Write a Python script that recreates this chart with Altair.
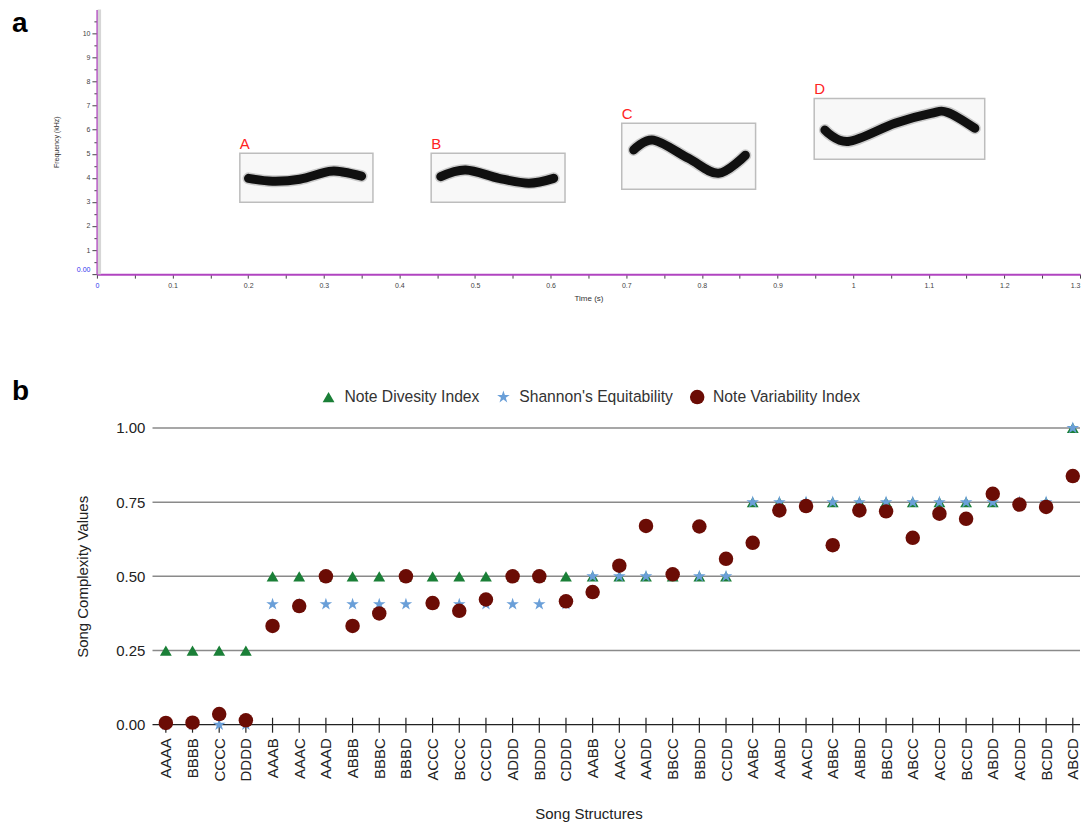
import altair as alt
import pandas as pd

# ---------------- Panel a data (spectrogram sketches) ----------------
note_names = ["A", "B", "C", "D"]
box_t0 = [0.189, 0.442, 0.694, 0.9485]
box_t1 = [0.365, 0.619, 0.871, 1.174]
box_f0 = [2.99, 2.99, 3.53, 4.77]
box_f1 = [5.02, 5.02, 6.27, 7.30]

trace_A_t = [0.2005, 0.232, 0.268, 0.307, 0.327, 0.350]
trace_A_f = [3.98, 3.86, 3.94, 4.27, 4.23, 4.07]
trace_B_t = [0.4547, 0.4877, 0.5317, 0.5712, 0.604]
trace_B_f = [4.05, 4.33, 3.98, 3.78, 3.98]
trace_C_t = [0.7098, 0.7361, 0.7823, 0.8219, 0.8575]
trace_C_f = [5.16, 5.57, 4.81, 4.19, 4.94]
trace_D_t = [0.9626, 0.9934, 1.0554, 1.1029, 1.125, 1.161]
trace_D_f = [5.99, 5.51, 6.27, 6.68, 6.72, 6.06]

time_ticks = [0, 0.05, 0.1, 0.15, 0.2, 0.25, 0.3, 0.35, 0.4, 0.45, 0.5, 0.55, 0.6, 0.65,
              0.7, 0.75, 0.8, 0.85, 0.9, 0.95, 1.0, 1.05, 1.1, 1.15, 1.2, 1.25, 1.3]
freq_ticks = [0, 0.5, 1, 1.5, 2, 2.5, 3, 3.5, 4, 4.5, 5, 5.5, 6, 6.5, 7, 7.5, 8, 8.5,
              9, 9.5, 10, 10.5]

# ---------------- Panel b data ----------------
structures = ["AAAA", "BBBB", "CCCC", "DDDD", "AAAB", "AAAC", "AAAD", "ABBB", "BBBC",
              "BBBD", "ACCC", "BCCC", "CCCD", "ADDD", "BDDD", "CDDD", "AABB", "AACC",
              "AADD", "BBCC", "BBDD", "CCDD", "AABC", "AABD", "AACD", "ABBC", "ABBD",
              "BBCD", "ABCC", "ACCD", "BCCD", "ABDD", "ACDD", "BCDD", "ABCD"]
note_diversity = [0.25, 0.25, 0.25, 0.25, 0.5, 0.5, 0.5, 0.5, 0.5, 0.5, 0.5, 0.5, 0.5,
                  0.5, 0.5, 0.5, 0.5, 0.5, 0.5, 0.5, 0.5, 0.5, 0.75, 0.75, 0.75, 0.75,
                  0.75, 0.75, 0.75, 0.75, 0.75, 0.75, 0.75, 0.75, 1.0]
shannon_equit = [0.0, 0.0, 0.0, 0.0, 0.406, 0.406, 0.406, 0.406, 0.406, 0.406, 0.406,
                 0.406, 0.406, 0.406, 0.406, 0.406, 0.5, 0.5, 0.5, 0.5, 0.5, 0.5, 0.75,
                 0.75, 0.75, 0.75, 0.75, 0.75, 0.75, 0.75, 0.75, 0.75, 0.75, 0.75, 1.0]
note_variability = [0.006, 0.007, 0.036, 0.015, 0.333, 0.40, 0.50, 0.333, 0.375, 0.50,
                    0.41, 0.384, 0.422, 0.50, 0.50, 0.416, 0.447, 0.536, 0.670, 0.507,
                    0.668, 0.559, 0.613, 0.722, 0.737, 0.605, 0.722, 0.719, 0.630, 0.711,
                    0.694, 0.778, 0.742, 0.734, 0.838]
series_names = ["Note Divesity Index", "Shannon's Equitability", "Note Variability Index"]
series_colors = ["#1a7f37", "#6a9fd8", "#6b0c05"]
STAR = ("M0,-1L0.2245,-0.309L0.951,-0.309L0.363,0.118L0.588,0.809L0,0.382"
        "L-0.588,0.809L-0.363,0.118L-0.951,-0.309L-0.2245,-0.309Z")
series_shapes = ["triangle-up", STAR, "circle"]
series_sizes = [140, 210, 135]
grid_values = [0.25, 0.5, 0.75, 1.0]

FONT = "Liberation Sans"

# ======================= Panel a =======================
boxes = pd.DataFrame({"note": note_names, "t0": box_t0, "t1": box_t1,
                      "f0": box_f0, "f1": box_f1})
trace_rows = []
for name, ts, fs in [("A", trace_A_t, trace_A_f), ("B", trace_B_t, trace_B_f),
                     ("C", trace_C_t, trace_C_f), ("D", trace_D_t, trace_D_f)]:
    for k, (t, f) in enumerate(zip(ts, fs)):
        trace_rows.append({"note": name, "k": k, "t": t, "f": f})
traces = pd.DataFrame(trace_rows)

xa_scale = alt.Scale(domain=[0, 1.3], nice=False, zero=False)
ya_scale = alt.Scale(domain=[0, 11], nice=False)

xa_axis = alt.Axis(
    values=time_ticks,
    labelExpr="datum.value == 0 ? '0' : (round(datum.value*20) % 2 == 0 ? format(datum.value, '.1~f') : '')",
    labelFont=FONT, labelFontSize=7, labelOverlap=False,
    labelColor={"condition": {"test": "datum.value == 0", "value": "#3333ee"}, "value": "#444444"},
    labelAlign={"condition": {"test": "datum.value > 1.29", "value": "right"}, "value": "center"},
    tickColor="#444444", tickSize=4, labelPadding=3,
    domainColor="#b044c0", domainWidth=2, grid=False,
    title="Time (s)", titleFont=FONT, titleFontSize=8, titleFontWeight="normal",
    titleColor="#333333", titlePadding=6,
)
ya_axis = alt.Axis(
    values=freq_ticks,
    labelExpr="datum.value == 0 ? '0.00' : (datum.value % 1 == 0 ? format(datum.value, '.0f') : '')",
    labelFont=FONT, labelFontSize=7, labelOverlap=False,
    labelColor={"condition": {"test": "datum.value == 0", "value": "#3333ee"}, "value": "#444444"},
    labelOffset={"condition": {"test": "datum.value == 0", "value": -5}, "value": 0},
    tickColor="#444444",
    tickSize={"condition": {"test": "datum.value % 1 == 0", "value": 5}, "value": 3},
    labelPadding=2, domainColor="#b044c0", domainWidth=2, grid=False,
    title="Frequency (kHz)", titleFont=FONT, titleFontSize=7, titleFontWeight="normal",
    titleColor="#333333", titlePadding=17,
)

XA = dict(scale=xa_scale, axis=xa_axis)
YA = dict(scale=ya_scale, axis=ya_axis)

band = alt.Chart(pd.DataFrame({"a": [0]})).mark_rect(color="#d6d6d6").encode(
    x=alt.datum(0.001, **XA), x2=alt.datum(0.0055),
    y=alt.datum(0, **YA), y2=alt.datum(11),
)

box_layer = alt.Chart(boxes).mark_rect(fill="#f8f8f8", stroke="#bdbdbd", strokeWidth=1.5).encode(
    x=alt.X("t0:Q", **XA), x2="t1:Q",
    y=alt.Y("f0:Q", **YA), y2="f1:Q",
)
box_text = alt.Chart(boxes).mark_text(
    align="left", baseline="bottom", dy=-1, fontSize=15, font=FONT, color="#ff2222"
).encode(x=alt.X("t0:Q", **XA), y=alt.Y("f1:Q", **YA), text="note:N")

trace_halo = alt.Chart(traces).mark_line(
    color="#000000", strokeWidth=12, opacity=0.18, interpolate="cardinal", strokeCap="round"
).encode(x=alt.X("t:Q", **XA), y=alt.Y("f:Q", **YA), detail="note:N", order="k:Q")
trace_core = alt.Chart(traces).mark_line(
    color="#050505", strokeWidth=9, opacity=0.95, interpolate="cardinal", strokeCap="round"
).encode(x=alt.X("t:Q", **XA), y=alt.Y("f:Q", **YA), detail="note:N", order="k:Q")

letter_a = alt.Chart(pd.DataFrame({"s": ["a"]})).mark_text(
    align="left", baseline="alphabetic", fontSize=28, fontWeight="bold", font=FONT, color="#000000"
).encode(x=alt.value(-85), y=alt.value(23), text="s:N")

panel_a = alt.layer(band, box_layer, box_text, trace_halo, trace_core, letter_a).properties(
    width=984, height=265
)

# ======================= Panel b =======================
rows = []
for sname, vals in zip(series_names, [note_diversity, shannon_equit, note_variability]):
    for i, (s, v) in enumerate(zip(structures, vals)):
        rows.append({"series": sname, "idx": i, "structure": s, "value": v})
dfb = pd.DataFrame(rows)

XMIN, XMAX = -2.584, 34.27
xb_scale = alt.Scale(domain=[XMIN, XMAX], nice=False, zero=False)
yb_scale = alt.Scale(domain=[0, 1], nice=False)

label_array = "[" + ",".join("'" + s + "'" for s in structures) + "]"
xb_axis = alt.Axis(
    values=list(range(len(structures))),
    labelExpr=label_array + "[datum.value]",
    labelAngle=270, labelFont=FONT, labelFontSize=15, labelColor="#222222",
    labelPadding=13, labelOverlap=False, ticks=False, domain=False, grid=False,
    title="Song Structures", titleFont=FONT, titleFontSize=15, titleFontWeight="normal",
    titleColor="#222222", titlePadding=26,
)
yb_axis = alt.Axis(
    values=[0, 0.25, 0.5, 0.75, 1.0], format=".2f", offset=-55,
    labelFont=FONT, labelFontSize=15, labelColor="#222222", labelPadding=7,
    ticks=False, domain=False, grid=False,
    title="Song Complexity Values", titleFont=FONT, titleFontSize=15,
    titleFontWeight="normal", titleColor="#222222", titlePadding=25,
)
XB = dict(scale=xb_scale, axis=xb_axis)
YB = dict(scale=yb_scale, axis=yb_axis)

legend = alt.Legend(
    title=None, orient="none", legendX=224, legendY=380, direction="horizontal",
    labelFont=FONT, labelFontSize=15.7, labelColor="#333333", symbolSize=150,
    labelOffset=8, columnPadding=16, symbolStrokeWidth=0,
)

grid_df = pd.DataFrame({"value": grid_values})
grid = alt.Chart(grid_df).mark_rule(color="#8a8a8a", strokeWidth=1.5).encode(
    x=alt.datum(-0.5, **XB), x2=alt.datum(XMAX),
    y=alt.Y("value:Q", **YB),
)
baseline = alt.Chart(pd.DataFrame({"value": [0.0]})).mark_rule(color="#222222", strokeWidth=1.3).encode(
    x=alt.datum(-0.5, **XB), x2=alt.datum(XMAX), y=alt.Y("value:Q", **YB),
)
ticks = alt.Chart(pd.DataFrame({"idx": list(range(len(structures)))})).mark_rule(
    color="#222222", strokeWidth=1.2
).encode(x=alt.X("idx:Q", **XB), y=alt.value(290), y2=alt.value(305))

points = alt.Chart(dfb).mark_point(filled=True, opacity=1).encode(
    x=alt.X("idx:Q", **XB),
    y=alt.Y("value:Q", **YB),
    color=alt.Color("series:N", scale=alt.Scale(domain=series_names, range=series_colors),
                    legend=legend),
    shape=alt.Shape("series:N", scale=alt.Scale(domain=series_names, range=series_shapes),
                    legend=legend),
    size=alt.Size("series:N", scale=alt.Scale(domain=series_names, range=series_sizes),
                  legend=None),
)

letter_b = alt.Chart(pd.DataFrame({"s": ["b"]})).mark_text(
    align="left", baseline="alphabetic", fontSize=28, fontWeight="bold", font=FONT, color="#000000"
).encode(x=alt.value(-85), y=alt.value(-28), text="s:N")

panel_b = alt.layer(grid, baseline, ticks, points, letter_b).properties(width=984, height=297)

chart = alt.vconcat(panel_a, panel_b, spacing=76).properties(
    padding={"top": 1, "left": 4, "right": 0, "bottom": 0}, background="white"
).configure_view(stroke=None)

chart.save("out.html", embed_options={"renderer": "svg", "actions": False})
